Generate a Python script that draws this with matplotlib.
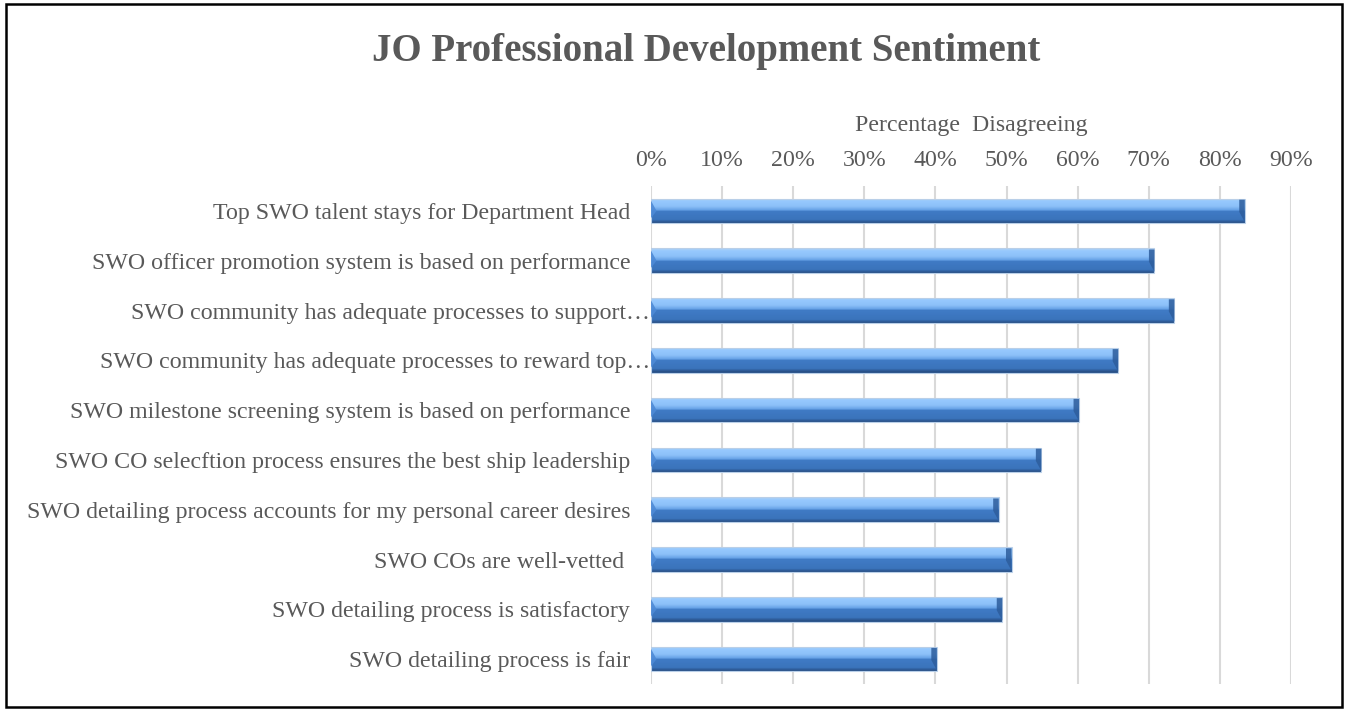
import matplotlib
matplotlib.use("Agg")
import matplotlib.pyplot as plt
import matplotlib.transforms as mtransforms
import numpy as np
from matplotlib.colors import LinearSegmentedColormap
from matplotlib.patches import Polygon, Rectangle

categories = [
    "Top SWO talent stays for Department Head",
    "SWO officer promotion system is based on performance",
    "SWO community has adequate processes to support\u2026",
    "SWO community has adequate processes to reward top\u2026",
    "SWO milestone screening system is based on performance",
    "SWO CO selecftion process ensures the best ship leadership",
    "SWO detailing process accounts for my personal career desires",
    "SWO COs are well-vetted ",
    "SWO detailing process is satisfactory",
    "SWO detailing process is fair",
]
values = [83.5, 70.8, 73.6, 65.7, 60.2, 54.9, 48.9, 50.7, 49.4, 40.2]
xticks = [0, 10, 20, 30, 40, 50, 60, 70, 80, 90]
xtick_labels = ["0%", "10%", "20%", "30%", "40%", "50%", "60%", "70%", "80%", "90%"]

plt.rcParams['font.family'] = ['Liberation Serif', 'DejaVu Serif']
TXT = "#595959"
FS = 17.2

fig = plt.figure(figsize=(13.45, 7.12), dpi=100)
ax = fig.add_axes([651/1345, 1-684/712, (1291-651)/1345, (684-186)/712])

n = len(categories)
ypos = np.arange(n)
bh = 0.49

# gradient strips (top -> bottom), fraction of bar height
grad = LinearSegmentedColormap.from_list("g", [
    (0.0, "#a9cff7"), (0.08, "#96c8fd"), (0.3, "#8cc0f8"), (0.44, "#6aa5e8"),
    (0.52, "#3f7ac4"), (0.85, "#3a73bb"), (0.93, "#2f5e9c"), (1.0, "#264d82")])
nstrip = 24
sh = bh / nstrip
for k in range(nstrip):
    frac = (k + 0.5) / nstrip
    off = -bh/2 + (k + 0.5) * sh  # negative = top (inverted axis)
    ax.barh(ypos + off, values, height=sh*1.02, color=grad(frac), edgecolor="none",
            zorder=3)
# thin outline
ax.barh(ypos, values, height=bh, color="none", edgecolor="#b9cfe8", linewidth=0.8, zorder=4)

# bevel ends
for y, v in zip(ypos, values):
    d = 0.6
    top, bot = y - bh/2, y + bh/2
    ax.add_patch(Polygon([(v - d*1.3, top + 0.02), (v, top + 0.02), (v, bot - 0.02), (v - d*1.3, y + 0.02)],
                         closed=True, facecolor="#2d5d9c", edgecolor="none", alpha=0.85, zorder=5))
    ax.add_patch(Polygon([(0, top + 0.04), (d*1.3, y), (0, bot - 0.1)],
                         closed=True, facecolor="#4d8ad6", edgecolor="none", alpha=0.9, zorder=5))

ax.set_xlim(0, 90)
ax.set_ylim(n - 0.5, -0.5)
ax.xaxis.tick_top()
ax.set_xticks(xticks)
ax.set_xticklabels(xtick_labels, fontsize=FS, color=TXT)
ax.tick_params(axis='x', length=0, pad=11)
ax.set_yticks(ypos)
ax.set_yticklabels(categories, fontsize=FS, color=TXT)
ax.tick_params(axis='y', length=0, pad=15)
for lab in ax.get_yticklabels():
    if lab.get_text().endswith("\u2026"):
        lab.set_transform(lab.get_transform() + mtransforms.ScaledTranslation(20/100, 0, fig.dpi_scale_trans))

ax.grid(axis='x', color="#d9d9d9", linewidth=1.5, zorder=0)
ax.set_axisbelow(True)
for s in ax.spines.values():
    s.set_visible(False)

fig.text(706/1345, 1-52/712, "JO Professional Development Sentiment", ha="center", va="center",
         fontsize=28, fontweight="bold", color=TXT)
fig.text(971/1345, 1-126/712, "Percentage  Disagreeing", ha="center", va="center",
         fontsize=FS, color=TXT)

# outer frame
fig.patches.append(Rectangle((6/1345, 1-707/712), (1342-6)/1345, (707-4)/712,
                             transform=fig.transFigure, fill=False, edgecolor="black", linewidth=1.8))

fig.savefig("out.png", dpi=100)
